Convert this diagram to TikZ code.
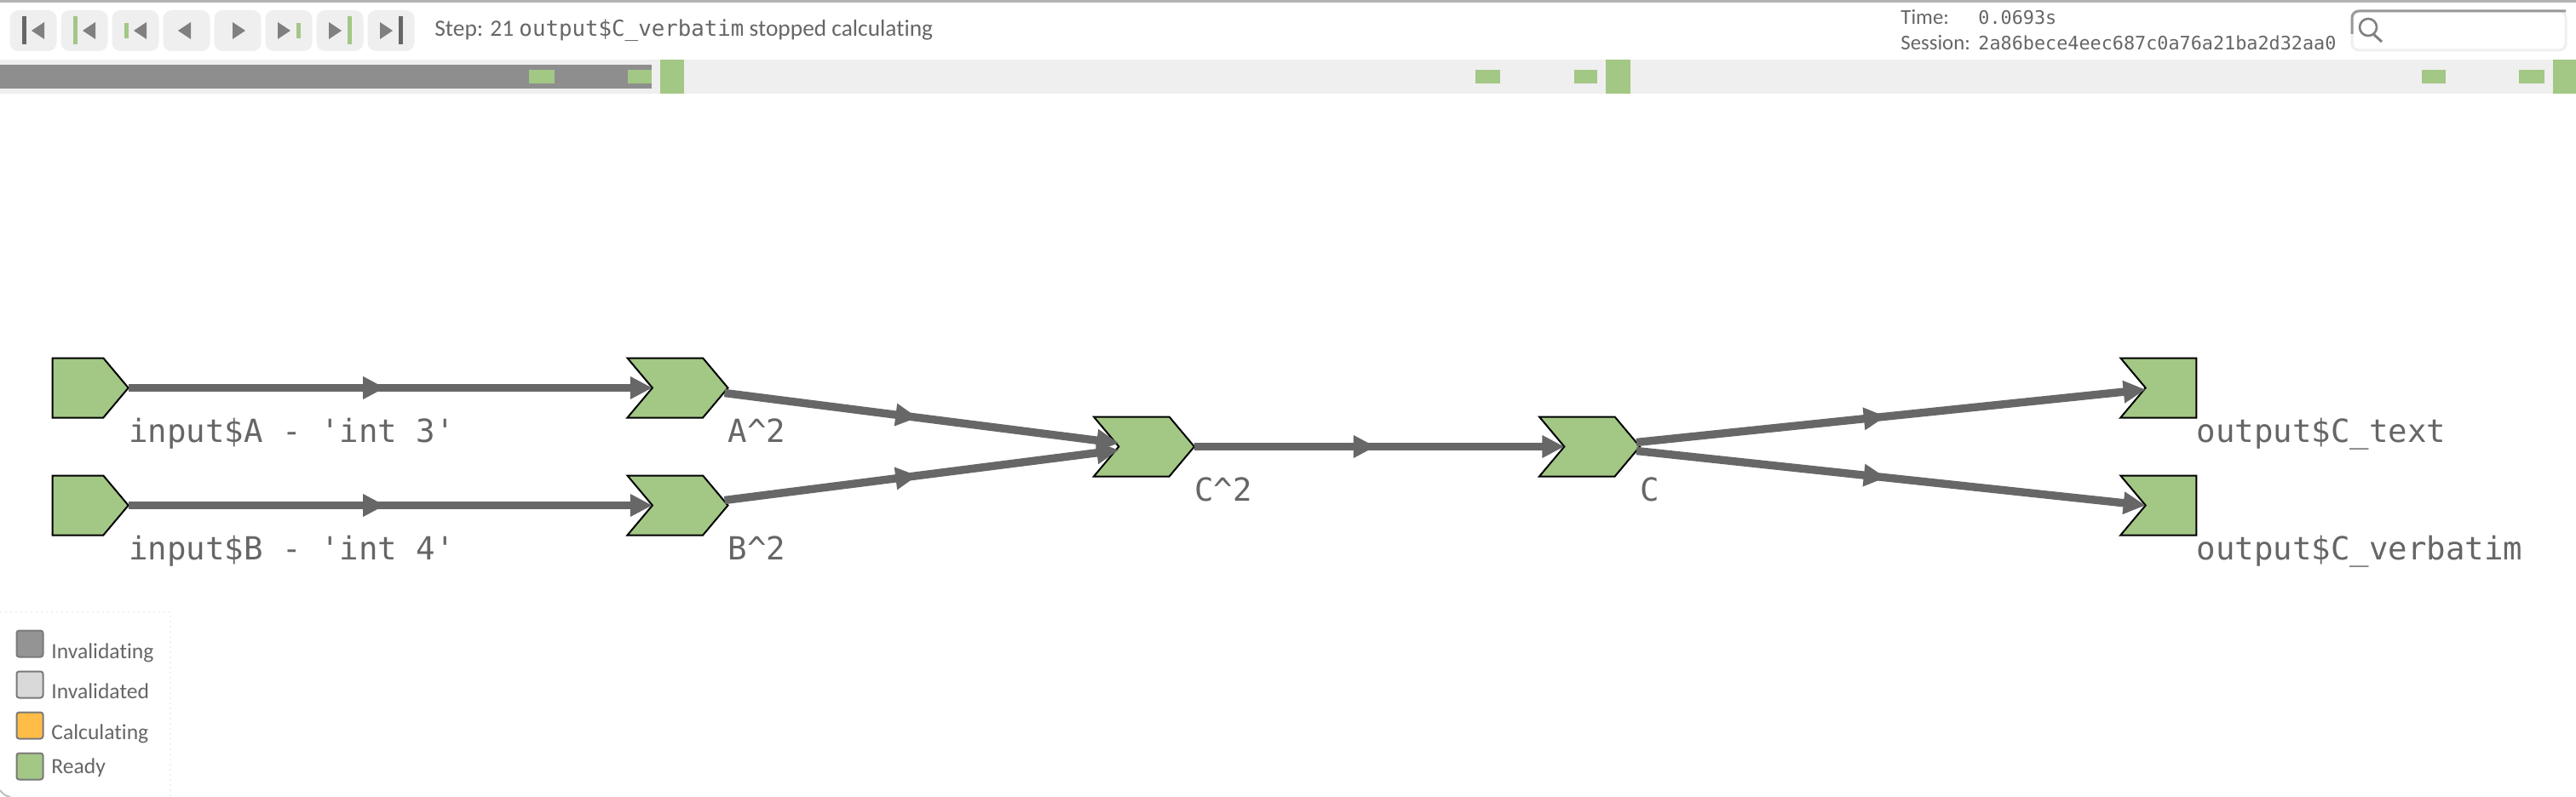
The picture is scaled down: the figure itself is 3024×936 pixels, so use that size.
\documentclass[tikz,border=0pt]{standalone}
\usepackage{fontspec}
\setmainfont{Carlito}[Ligatures={NoCommon,NoRequired,NoContextual}]
\setmonofont{DejaVu Sans Mono}
\usetikzlibrary{arrows.meta,decorations.markings,shapes.symbols,positioning}
\definecolor{ready}{HTML}{A3C785}
\definecolor{wire}{HTML}{676767}
\definecolor{inktext}{HTML}{666666}
\definecolor{barbg}{HTML}{EFEFEF}
\definecolor{bardark}{HTML}{8E8E8E}
\definecolor{calc}{HTML}{FFBC47}
\begin{document}
\begin{tikzpicture}[x=.5pt,y=-.5pt,
	react/.style={signal,draw=black,fill=ready,line width=1pt,inner sep=0pt,outer sep=0pt,minimum width=59pt,minimum height=35pt,signal pointer angle=100},
	source/.style={react,signal from=nowhere,signal to=east,minimum width=44.5pt},
	middle/.style={react,signal from=west,signal to=east},
	sink/.style={react,signal from=west,signal to=nowhere,minimum width=44.5pt},
	tag/.style={anchor=base west,inner sep=0pt,text=inktext,font=\ttfamily\fontsize{18.7pt}{20pt}\selectfont},
	link/.style={draw=wire,line width=4.7pt,-{Triangle[length=13pt,width=12.5pt]},postaction={decorate},
		decoration={markings,mark=at position .49 with {\arrow{Triangle[length=13pt,width=12.5pt]}}}},
	btn/.style={fill=barbg,rounded corners=5pt,inner sep=0pt,minimum width=27.5pt,minimum height=24pt},
	chip/.style={fill=ready},
	swatch/.style={draw=black!52,line width=1pt,rounded corners=1.5pt,inner sep=0pt,minimum size=15.5pt},
	legtext/.style={anchor=base west,inner sep=0pt,text=inktext,font=\fontsize{12.8pt}{14pt}\selectfont},
	headtext/.style={anchor=base west,inner sep=0pt,text=inktext,font=\fontsize{13.7pt}{15pt}\selectfont}]

	\useasboundingbox (0,0) rectangle (3024,936);
	\fill[white] (0,0) rectangle (3024,936);

	% toolbar
	\fill[black!30] (0,0) rectangle (3024,3);
	\foreach \n in {0,...,7}
		\node[btn] (btn\n) at (39+60*\n,36) {};
	\fill[wire] (25.5,19) rectangle (30.5,52);
	\fill[ready] (85.5,19) rectangle (90.5,52);
	\fill[ready] (145.5,27) rectangle (150.5,45);
	\fill[ready] (407.5,19) rectangle (412.5,52);
	\fill[ready] (347.5,27) rectangle (352.5,45);
	\fill[wire] (467.5,19) rectangle (472.5,52);
	\foreach \x in {37,97,157,209}
		\fill[black!50] (\x,36) -- (\x+15,26) -- (\x+15,46) -- cycle;
	\foreach \x in {288,341,401,461}
		\fill[black!50] (\x,36) -- (\x-15,26) -- (\x-15,46) -- cycle;

	\node[headtext] (step) at (510,43) {Step: 21 {\ttfamily\fontsize{12.9pt}{15pt}\selectfont output\$C\_verbatim} stopped calculating};
	\node[headtext,font=\fontsize{12.4pt}{15pt}\selectfont] (timekey) at (2231,29) {Time:};
	\node[headtext,font=\fontsize{12.4pt}{15pt}\selectfont] (sesskey) at (2231,59) {Session:};
	\node[headtext,font=\ttfamily\fontsize{10.9pt}{13pt}\selectfont] (timeval) at (2322,29) {0.0693s};
	\node[headtext,font=\ttfamily\fontsize{10.9pt}{13pt}\selectfont] (sessval) at (2322,59) {2a86bece4eec687c0a76a21ba2d32aa0};

	% search box
	\draw[barbg,line width=1.5pt,rounded corners=4pt] (2761,13) rectangle (3012,59);
	\draw[black!40,line width=1.5pt,rounded corners=4pt] (2761,40) -- (2761,13) -- (3012,13);
	\draw[black!50,line width=1.3pt] (2780,32) circle (5pt);
	\draw[black!50,line width=1.5pt] (2786,40) -- (2796,49);

	% timeline
	\fill[barbg] (0,70) rectangle (3024,110);
	\fill[bardark] (0,76) rectangle (765,104);
	\foreach \a/\b in {621/651,737/765,1732/1761,1848/1875,2843/2871,2957/2987}
		\fill[chip] (\a,82) rectangle (\b,98);
	\foreach \a/\b in {775/803,1885/1914,2997/3024}
		\fill[chip] (\a,70) rectangle (\b,110);

	% reactive graph
	\node[source] (inA) at (91.5,455.5) {};
	\node[source] (inB) [below of=inA, node distance=69pt] {};
	\node[middle] (sqA) at (795.5,455.5) {};
	\node[middle] (sqB) [below of=sqA, node distance=69pt] {};
	\node[middle] (sqC) at (1343,524.5) {};
	\node[middle] (valC) [right of=sqC, node distance=261.5pt] {};
	\node[sink] (outT) at (2548.5,455.5) {};
	\node[sink] (outV) [below of=outT, node distance=69pt] {};

	\draw[link] (inA.east) -- (sqA.west);
	\draw[link] (inB.east) -- (sqB.west);
	\draw[link] ([xshift=-2pt,yshift=-3pt]sqA.east) -- ([yshift=2pt]sqC.west);
	\draw[link] ([xshift=-2pt,yshift=3pt]sqB.east) -- ([yshift=-2pt]sqC.west);
	\draw[link] (sqC.east) -- (valC.west);
	\draw[link] ([xshift=-2pt,yshift=2.5pt]valC.east) -- ([yshift=-1pt]outT.west);
	\draw[link] ([xshift=-2pt,yshift=-2.5pt]valC.east) -- (outV.west);

	\node[tag] (inAtag) at ([yshift=-32pt]inA.east) {input\$A - 'int 3'};
	\node[tag] (inBtag) at ([yshift=-32pt]inB.east) {input\$B - 'int 4'};
	\node[tag] (sqAtag) at ([yshift=-32pt]sqA.east) {A\textasciicircum 2};
	\node[tag] (sqBtag) at ([yshift=-32pt]sqB.east) {B\textasciicircum 2};
	\node[tag] (sqCtag) at ([yshift=-32pt]sqC.east) {C\textasciicircum 2};
	\node[tag] (valCtag) at ([yshift=-32pt]valC.east) {C};
	\node[tag] (outTtag) at ([yshift=-32pt]outT.east) {output\$C\_text};
	\node[tag] (outVtag) at ([yshift=-32pt]outV.east) {output\$C\_verbatim};

	% legend
	\draw[black!6,dotted,line width=1pt] (0,719) -- (200,719) -- (200,936);
	\draw[black!25,line width=1pt] (0,928) to[bend right=20] (12,936);
	\foreach \name/\col/\ypos/\base in {Invalidating/black!42/756/773,Invalidated/black!15/804/820,Calculating/calc/852/868,Ready/ready/900/908} {
		\node[swatch,fill=\col] (sw\name) at (35,\ypos) {};
		\node[legtext] (lb\name) at (60,\base) {\name};
	}

\end{tikzpicture}
\end{document}
